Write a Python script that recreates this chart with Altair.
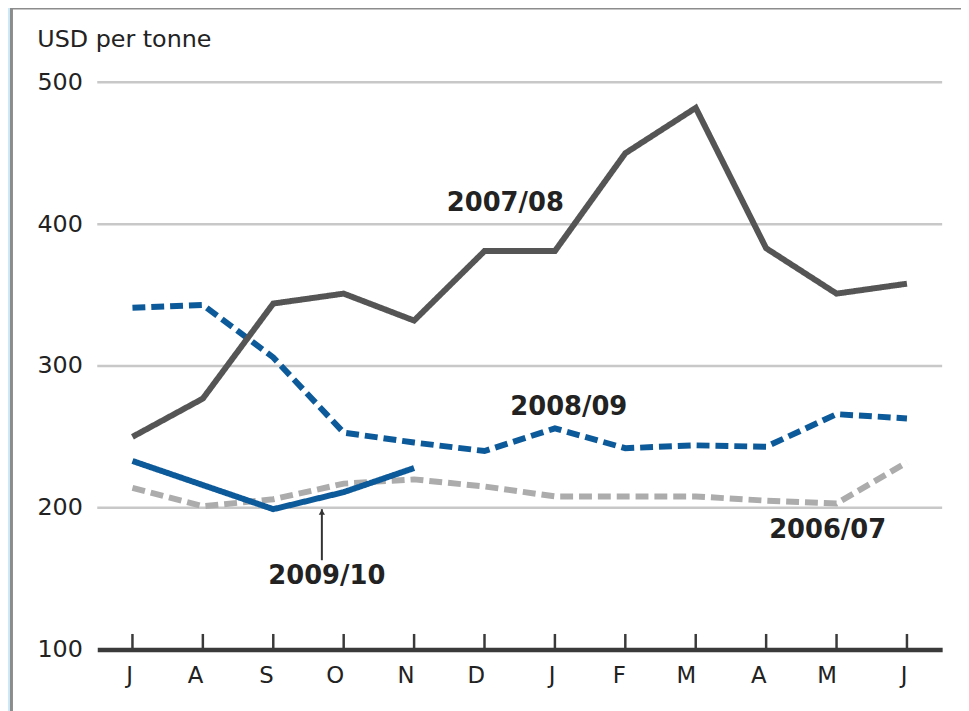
import altair as alt
import pandas as pd

months = ["Jul", "Aug", "Sep", "Oct", "Nov", "Dec", "Jan", "Feb", "Mar", "Apr", "May", "Jun"]
series_names = ["2006/07", "2008/09", "2007/08", "2009/10"]
s0607 = [214, 201, 206, 217, 220, 215, 208, 208, 208, 205, 203, 232]
s0708 = [250, 277, 344, 351, 332, 381, 381, 450, 482, 383, 351, 358]
s0809 = [341, 343, 306, 253, 246, 240, 256, 242, 244, 243, 266, 263]
s0910 = [233, 216, 199, 211, 228]
grid_values = [200, 300, 400, 500]
y_ticks = [100, 200, 300, 400, 500]

# labels: text, anchor month, value, pixel offset
label_text = ["2007/08", "2008/09", "2006/07", "2009/10"]
label_month = ["Dec", "Jan", "May", "Oct"]
label_value = [415, 271, 184, 152]
label_dx = [21, 14, -9, -17]

rows = []
for name, vals in zip(["2006/07", "2008/09", "2007/08", "2009/10"], [s0607, s0809, s0708, s0910]):
    for i, v in enumerate(vals):
        rows.append({"month": months[i], "value": v, "series": name, "order": i})
df = pd.DataFrame(rows)

W, H = 852, 572
FONT = "DejaVu Sans"

xscale = alt.Scale(domain=months, type="point", padding=0.5)
yscale = alt.Scale(domain=[100, 500], nice=False, zero=False)

frame = alt.Chart(pd.DataFrame({"a": [0]})).mark_rect(
    fill="white", stroke="#8c8c8c", strokeWidth=3
).encode(
    x=alt.value(-86.5), x2=alt.value(W + 200), y=alt.value(-75), y2=alt.value(H + 200)
)

grid = alt.Chart(pd.DataFrame({"g": grid_values})).mark_rule(
    color="#c8c8c8", strokeWidth=2.5
).encode(y=alt.Y("g:Q", scale=yscale))

ticks = alt.Chart(pd.DataFrame({"month": months})).mark_rule(
    color="#3a3a3a", strokeWidth=2.5
).encode(
    x=alt.X("month:N", scale=xscale),
    y=alt.datum(100),
    y2=alt.datum(111),
)

lines = alt.Chart(df).mark_line(strokeWidth=6, strokeCap="butt", strokeJoin="miter").encode(
    x=alt.X(
        "month:N", scale=xscale, sort=months,
        axis=alt.Axis(
            title=None, labelExpr="substring(datum.label, 0, 1)", ticks=False,
            domainColor="#3a3a3a", domainWidth=4.5, labelFont=FONT, labelFontSize=23,
            labelColor="#222222", labelPadding=26, labelAngle=0, labelBaseline="middle", zindex=1,
        ),
    ),
    y=alt.Y(
        "value:Q", scale=yscale,
        axis=alt.Axis(
            values=y_ticks, grid=False, ticks=False, domain=False,
            title="USD per tonne", titleAngle=0, titleAlign="left", titleBaseline="alphabetic",
            titleX=-61, titleY=-36, titleFont=FONT, titleFontSize=24, titleFontWeight="normal",
            titleColor="#222222", labelFont=FONT, labelFontSize=24, labelColor="#222222",
            labelPadding=15, labelBaseline="middle", zindex=1,
        ),
    ),
    color=alt.Color(
        "series:N",
        scale=alt.Scale(domain=series_names, range=["#acacac", "#0d5a9a", "#555555", "#0d5a9a"]),
        legend=None,
    ),
    strokeDash=alt.StrokeDash(
        "series:N",
        scale=alt.Scale(domain=series_names, range=[[13, 6], [13, 6], [1, 0], [1, 0]]),
        legend=None,
    ),
    order="order:Q",
    detail="series:N",
)

lab_df = pd.DataFrame({"text": label_text, "month": label_month, "value": label_value, "dx": label_dx})
labels = alt.layer(*[
    alt.Chart(lab_df.iloc[[i]]).mark_text(
        font=FONT, fontSize=26, fontWeight="bold", color="#222222",
        align="center", baseline="middle", dx=int(label_dx[i])
    ).encode(x=alt.X("month:N", scale=xscale), y=alt.Y("value:Q", scale=yscale), text="text:N")
    for i in range(len(label_text))
])

arrow_df = pd.DataFrame({"month": ["Oct"], "y1": [163], "y2": [199]})
arrow_line = alt.Chart(arrow_df).mark_rule(color="#333333", strokeWidth=2, xOffset=-22).encode(
    x=alt.X("month:N", scale=xscale), y=alt.Y("y1:Q", scale=yscale), y2="y2:Q"
)
arrow_head = alt.Chart(arrow_df).mark_point(
    shape="triangle-up", filled=True, color="#333333", size=40, opacity=1, xOffset=-22, yOffset=3
).encode(x=alt.X("month:N", scale=xscale), y=alt.Y("y2:Q", scale=yscale))

chart = alt.layer(frame, grid, ticks, lines, labels, arrow_line, arrow_head).properties(
    width=W, height=H,
    autosize=alt.AutoSizeParams(type="none"),
    padding={"left": 90, "top": 72, "right": 19, "bottom": 59},
    background="#cde8f7",
).configure_view(stroke=None)

chart.save("out.html", embed_options={"renderer": "svg", "actions": False})
